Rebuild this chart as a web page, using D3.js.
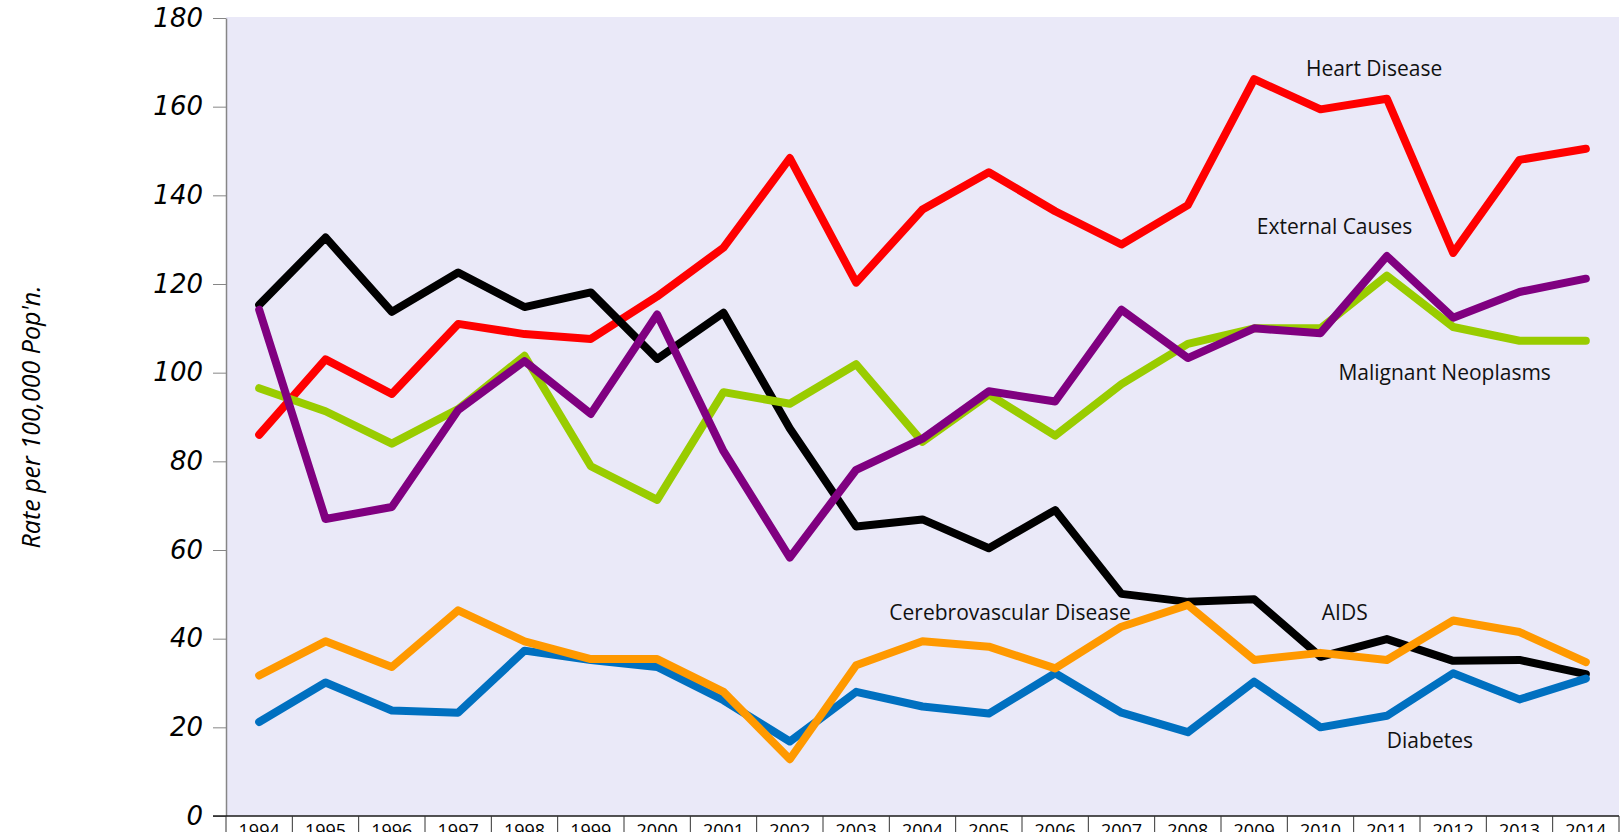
<!DOCTYPE html>
<html>
<head>
<meta charset="utf-8">
<script src="https://cdn.jsdelivr.net/npm/d3@7"></script>
<style>
  html, body { margin: 0; padding: 0; background: #fff; overflow: hidden; }
  svg { display: block; }
</style>
</head>
<body>
<svg id="chart" width="1623" height="832"></svg>
<script>
// data
const years = d3.range(1994, 2015);
const yTicks = [0, 20, 40, 60, 80, 100, 120, 140, 160, 180];

const heartDisease = [86, 103, 95.2, 111, 108.7, 107.6, 117.2, 128.2, 148.4, 120.3, 136.8, 145.2, 136.4, 128.9, 137.8, 166.2, 159.4, 161.8, 127, 148, 150.5];
const aids = [115.3, 130.5, 113.7, 122.6, 114.8, 118.1, 103.1, 113.5, 87.4, 65.3, 66.9, 60.4, 69, 50.1, 48.3, 48.9, 35.9, 39.9, 35, 35.2, 32];
const malignantNeoplasms = [96.5, 91.3, 84, 91.8, 103.8, 78.9, 71.3, 95.6, 93, 101.9, 84.4, 95.1, 85.8, 97.4, 106.5, 110, 110, 121.9, 110.3, 107.2, 107.2];
const externalCauses = [114.2, 67, 69.7, 91.6, 102.6, 90.7, 113.1, 82.3, 58.3, 78.1, 85.1, 95.8, 93.5, 114.2, 103.3, 110, 108.9, 126.3, 112.4, 118.2, 121.2];
const diabetes = [21.2, 30.1, 23.8, 23.3, 37.3, 35.2, 33.6, 26.1, 16.8, 28, 24.7, 23.1, 32.2, 23.3, 18.9, 30.3, 20, 22.6, 32.2, 26.3, 31];
const cerebrovascular = [31.7, 39.4, 33.6, 46.4, 39.4, 35.4, 35.4, 28, 12.8, 34, 39.4, 38.2, 33.3, 42.7, 47.6, 35.2, 36.8, 35.2, 44.1, 41.5, 34.7];

const series = [
  { name: 'Heart Disease', values: heartDisease, color: '#FF0000' },
  { name: 'AIDS', values: aids, color: '#000000' },
  { name: 'Malignant Neoplasms', values: malignantNeoplasms, color: '#99CC00' },
  { name: 'External Causes', values: externalCauses, color: '#800080' },
  { name: 'Diabetes', values: diabetes, color: '#0070C0' },
  { name: 'Cerebrovascular Disease', values: cerebrovascular, color: '#FF9900' }
];

// where the series names sit (year, rate)
const labels = [
  { text: 'Heart Disease', year: 2009.78, rate: 167 },
  { text: 'External Causes', year: 2009.04, rate: 131.2 },
  { text: 'Malignant Neoplasms', year: 2010.27, rate: 98.4 },
  { text: 'Cerebrovascular Disease', year: 2003.5, rate: 44.2 },
  { text: 'AIDS', year: 2010.02, rate: 44.2 },
  { text: 'Diabetes', year: 2011.0, rate: 15.3 }
];

const margin = { left: 226, right: 4, top: 18, bottom: 16 };
const width = 1623, height = 832;

const svg = d3.select('#chart');

const x = d3.scaleLinear()
  .domain([1993.5, 2014.5])
  .range([margin.left, width - margin.right]);

const y = d3.scaleLinear()
  .domain([0, 180])
  .range([height - margin.bottom, margin.top]);

// plot area
svg.append('rect')
  .attr('x', x(1993.5))
  .attr('y', y(180) - 1)
  .attr('width', x(2014.5) - x(1993.5))
  .attr('height', y(0) - y(180) + 1)
  .attr('fill', '#EAE9F8');

// y axis
const yAxis = svg.append('g')
  .attr('transform', `translate(${x(1993.5)},0)`)
  .call(d3.axisLeft(y).tickValues(yTicks).tickSize(13).tickPadding(10).tickSizeOuter(0));

yAxis.select('.domain').attr('stroke', '#868686').attr('stroke-width', 1.5);
yAxis.selectAll('.tick line').attr('stroke', '#868686');
yAxis.selectAll('.tick text')
  .attr('fill', '#000')
  .style('font-family', '"DejaVu Sans", Verdana, sans-serif')
  .style('font-style', 'italic')
  .style('font-size', '26px');

// y title
svg.append('text')
  .attr('transform', `translate(31,${(y(0) + y(180)) / 2}) rotate(-90)`)
  .attr('text-anchor', 'middle')
  .attr('dy', '0.35em')
  .style('font-family', '"Open Sans", sans-serif')
  .style('font-style', 'italic')
  .style('font-size', '25px')
  .text("Rate per 100,000 Pop'n.");

// x axis: category cells
const xAxis = svg.append('g');
xAxis.append('line')
  .attr('x1', x(1993.5) - 13)
  .attr('x2', x(2014.5))
  .attr('y1', y(0))
  .attr('y2', y(0))
  .attr('stroke', '#1a1a1a')
  .attr('stroke-width', 1.5);

xAxis.selectAll('line.divider')
  .data(years.map(d => d - 0.5).concat([2014.5]))
  .enter()
  .append('line')
  .attr('class', 'divider')
  .attr('x1', d => x(d))
  .attr('x2', d => x(d))
  .attr('y1', y(0))
  .attr('y2', height)
  .attr('stroke', '#333');

xAxis.selectAll('text')
  .data(years)
  .enter()
  .append('text')
  .attr('x', d => x(d))
  .attr('y', y(0) + 21)
  .attr('text-anchor', 'middle')
  .style('font-family', '"Open Sans", sans-serif')
  .style('font-size', '18px')
  .text(d => d);

// lines
const line = d3.line()
  .x((d, i) => x(years[i]))
  .y(d => y(d));

svg.selectAll('path.series')
  .data(series)
  .enter()
  .append('path')
  .attr('class', 'series')
  .attr('d', d => line(d.values))
  .attr('fill', 'none')
  .attr('stroke', d => d.color)
  .attr('stroke-width', 8)
  .attr('stroke-linejoin', 'round')
  .attr('stroke-linecap', 'round');

// series names
svg.selectAll('text.label')
  .data(labels)
  .enter()
  .append('text')
  .attr('class', 'label')
  .attr('x', d => x(d.year))
  .attr('y', d => y(d.rate))
  .style('font-family', '"Open Sans", sans-serif')
  .style('font-size', '21px')
  .attr('fill', '#111')
  .text(d => d.text);
</script>
</body>
</html>
